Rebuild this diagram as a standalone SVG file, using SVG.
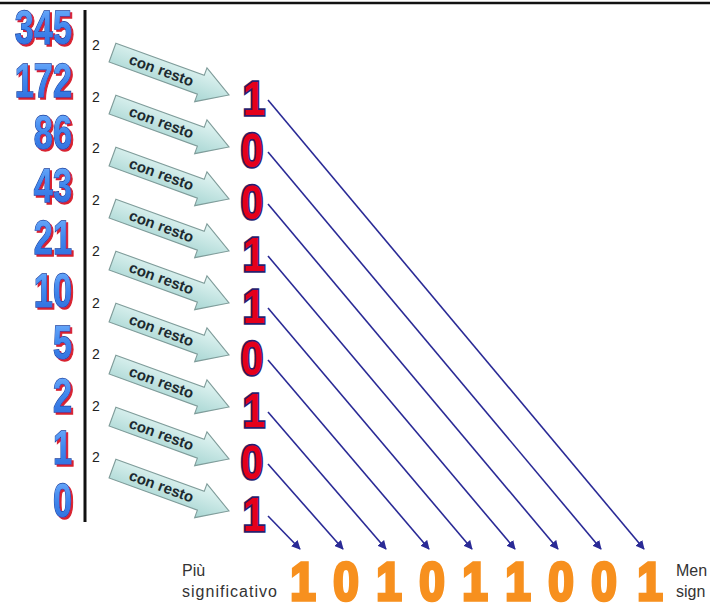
<svg xmlns="http://www.w3.org/2000/svg" width="710" height="607" viewBox="0 0 710 607">
  <defs>
    <style>
      .num { font-family: "Liberation Sans", Arial, sans-serif; font-weight: bold; font-size: 49px; text-anchor: end; fill: url(#blueFace); stroke: #1c3f9c; stroke-width: 1.4; paint-order: stroke; filter: url(#redShadow); }
      .div { font-family: "Liberation Sans", Arial, sans-serif; font-size: 14px; fill: #222; }
      .step path { fill: url(#stepFill); stroke: #7f9c9a; stroke-width: 1.1; }
      .step text { font-family: "Liberation Sans", Arial, sans-serif; font-weight: bold; font-size: 15px; fill: #1c2a30; text-anchor: middle; }
      .rem { font-family: "Liberation Sans", Arial, sans-serif; font-weight: bold; font-size: 49px; text-anchor: middle; fill: #e4001b; stroke: #2b1d6e; stroke-width: 3.6; paint-order: stroke; }
      .bit { font-family: "Liberation Sans", Arial, sans-serif; font-weight: bold; font-size: 54px; text-anchor: middle; fill: url(#bitFill); stroke: url(#bitFill); stroke-width: 3.5; }
      .cap { font-family: "Liberation Sans", Arial, sans-serif; font-size: 16px; fill: #333; }
      .link { stroke: #2a2a96; stroke-width: 1.6; fill: none; marker-end: url(#tip); }
    </style>
    <linearGradient id="blueFace" x1="0" y1="0" x2="0" y2="1">
      <stop offset="0" stop-color="#7ab6ff"/>
      <stop offset="0.5" stop-color="#4088ee"/>
      <stop offset="1" stop-color="#2c68d8"/>
    </linearGradient>
    <linearGradient id="stepFill" x1="0" y1="0" x2="0" y2="1">
      <stop offset="0" stop-color="#e3f5f3"/>
      <stop offset="1" stop-color="#a8d6d3"/>
    </linearGradient>
    <linearGradient id="bitFill" gradientUnits="userSpaceOnUse" x1="290" y1="0" x2="665" y2="0">
      <stop offset="0" stop-color="#f7901e"/>
      <stop offset="0.3" stop-color="#f9b21c"/>
      <stop offset="0.45" stop-color="#f8e21a"/>
      <stop offset="0.6" stop-color="#f8df1a"/>
      <stop offset="0.8" stop-color="#f8b01e"/>
      <stop offset="1" stop-color="#f7901e"/>
    </linearGradient>
    <!-- red drop shadow behind the blue dividends -->
    <filter id="redShadow" x="-15%" y="-15%" width="140%" height="140%">
      <feOffset in="SourceAlpha" dx="3.5" dy="2.2" result="off"/>
      <feFlood flood-color="#d8202e"/>
      <feComposite in2="off" operator="in" result="shadow"/>
      <feMerge>
        <feMergeNode in="shadow"/>
        <feMergeNode in="SourceGraphic"/>
      </feMerge>
    </filter>
    <marker id="tip" viewBox="0 0 10 10" refX="9" refY="5" markerWidth="9" markerHeight="9" markerUnits="userSpaceOnUse" orient="auto">
      <path d="M0,0 L10,5 L0,10 Z" fill="#2a2a96"/>
    </marker>
  </defs>

  <rect width="710" height="607" fill="#ffffff"/>
  <line x1="0" y1="3" x2="710" y2="3" stroke="#111" stroke-width="2.5"/>

  <!-- dividends -->
  <g id="dividends">
    <g id="n345"><text class="num" transform="translate(72,44) scale(0.7,1)">345</text></g>
    <g id="n172"><text class="num" transform="translate(72,96.5) scale(0.7,1)">172</text></g>
    <g id="n86"><text class="num" transform="translate(72,149) scale(0.7,1)">86</text></g>
    <g id="n43"><text class="num" transform="translate(72,201.5) scale(0.7,1)">43</text></g>
    <g id="n21"><text class="num" transform="translate(72,254) scale(0.7,1)">21</text></g>
    <g id="n10"><text class="num" transform="translate(72,306.5) scale(0.7,1)">10</text></g>
    <g id="n5"><text class="num" transform="translate(72,359) scale(0.7,1)">5</text></g>
    <g id="n2"><text class="num" transform="translate(72,411.5) scale(0.7,1)">2</text></g>
    <g id="n1"><text class="num" transform="translate(72,464) scale(0.7,1)">1</text></g>
    <g id="n0"><text class="num" transform="translate(72,516.5) scale(0.7,1)">0</text></g>
  </g>

  <!-- division bar and divisors -->
  <g id="divisor">
    <line x1="85" y1="10" x2="85" y2="522" stroke="#111" stroke-width="3"/>
    <text class="div" x="92" y="50">2</text>
    <text class="div" x="92" y="102">2</text>
    <text class="div" x="92" y="153">2</text>
    <text class="div" x="92" y="205">2</text>
    <text class="div" x="92" y="256">2</text>
    <text class="div" x="92" y="308">2</text>
    <text class="div" x="92" y="359">2</text>
    <text class="div" x="92" y="411">2</text>
    <text class="div" x="92" y="462">2</text>
  </g>

  <!-- "con resto" step arrows -->
  <g id="steps">
    <g id="step1" class="step" transform="translate(229,95) rotate(20)"><path d="M-124,-10 L-30,-10 L-30,-18 L0,0 L-30,18 L-30,10 L-124,10 Z"/><text x="-72" y="5">con resto</text></g>
    <g id="step2" class="step" transform="translate(229,147) rotate(20)"><path d="M-124,-10 L-30,-10 L-30,-18 L0,0 L-30,18 L-30,10 L-124,10 Z"/><text x="-72" y="5">con resto</text></g>
    <g id="step3" class="step" transform="translate(229,199) rotate(20)"><path d="M-124,-10 L-30,-10 L-30,-18 L0,0 L-30,18 L-30,10 L-124,10 Z"/><text x="-72" y="5">con resto</text></g>
    <g id="step4" class="step" transform="translate(229,251) rotate(20)"><path d="M-124,-10 L-30,-10 L-30,-18 L0,0 L-30,18 L-30,10 L-124,10 Z"/><text x="-72" y="5">con resto</text></g>
    <g id="step5" class="step" transform="translate(229,303) rotate(20)"><path d="M-124,-10 L-30,-10 L-30,-18 L0,0 L-30,18 L-30,10 L-124,10 Z"/><text x="-72" y="5">con resto</text></g>
    <g id="step6" class="step" transform="translate(229,355) rotate(20)"><path d="M-124,-10 L-30,-10 L-30,-18 L0,0 L-30,18 L-30,10 L-124,10 Z"/><text x="-72" y="5">con resto</text></g>
    <g id="step7" class="step" transform="translate(229,407) rotate(20)"><path d="M-124,-10 L-30,-10 L-30,-18 L0,0 L-30,18 L-30,10 L-124,10 Z"/><text x="-72" y="5">con resto</text></g>
    <g id="step8" class="step" transform="translate(229,459) rotate(20)"><path d="M-124,-10 L-30,-10 L-30,-18 L0,0 L-30,18 L-30,10 L-124,10 Z"/><text x="-72" y="5">con resto</text></g>
    <g id="step9" class="step" transform="translate(229,511) rotate(20)"><path d="M-124,-10 L-30,-10 L-30,-18 L0,0 L-30,18 L-30,10 L-124,10 Z"/><text x="-72" y="5">con resto</text></g>
  </g>

  <!-- remainders -->
  <g id="remainders">
    <g id="r1"><text class="rem" transform="translate(254,115) scale(0.82,1)">1</text></g>
    <g id="r2"><text class="rem" transform="translate(252,167) scale(0.82,1)">0</text></g>
    <g id="r3"><text class="rem" transform="translate(252,219) scale(0.82,1)">0</text></g>
    <g id="r4"><text class="rem" transform="translate(254,271) scale(0.82,1)">1</text></g>
    <g id="r5"><text class="rem" transform="translate(254,323) scale(0.82,1)">1</text></g>
    <g id="r6"><text class="rem" transform="translate(252,375) scale(0.82,1)">0</text></g>
    <g id="r7"><text class="rem" transform="translate(254,427) scale(0.82,1)">1</text></g>
    <g id="r8"><text class="rem" transform="translate(252,479) scale(0.82,1)">0</text></g>
    <g id="r9"><text class="rem" transform="translate(254,531) scale(0.82,1)">1</text></g>
  </g>

  <!-- connectors from each remainder to its place in the result -->
  <g id="connectors">
    <line class="link" x1="268" y1="100" x2="644" y2="549"/>
    <line class="link" x1="268" y1="152" x2="601" y2="549"/>
    <line class="link" x1="268" y1="204" x2="558" y2="549"/>
    <line class="link" x1="268" y1="256" x2="515" y2="549"/>
    <line class="link" x1="268" y1="308" x2="472" y2="549"/>
    <line class="link" x1="268" y1="360" x2="429" y2="549"/>
    <line class="link" x1="268" y1="412" x2="386" y2="549"/>
    <line class="link" x1="268" y1="464" x2="343" y2="549"/>
    <line class="link" x1="268" y1="516" x2="300" y2="549"/>
  </g>

  <!-- binary result -->
  <g id="result">
    <text class="bit" transform="translate(303,600) scale(0.85,1)">1</text>
    <text class="bit" transform="translate(346,600) scale(0.85,1)">0</text>
    <text class="bit" transform="translate(389,600) scale(0.85,1)">1</text>
    <text class="bit" transform="translate(432,600) scale(0.85,1)">0</text>
    <text class="bit" transform="translate(475,600) scale(0.85,1)">1</text>
    <text class="bit" transform="translate(518,600) scale(0.85,1)">1</text>
    <text class="bit" transform="translate(561,600) scale(0.85,1)">0</text>
    <text class="bit" transform="translate(604,600) scale(0.85,1)">0</text>
    <text class="bit" transform="translate(650,600) scale(0.85,1)">1</text>
  </g>

  <g id="msb-label">
    <text class="cap" x="182" y="576">Più</text>
    <text class="cap" x="182" y="597" textLength="95">significativo</text>
  </g>
  <g id="lsb-label">
    <text class="cap" x="676" y="576">Men</text>
    <text class="cap" x="676" y="597">sign</text>
  </g>
</svg>
